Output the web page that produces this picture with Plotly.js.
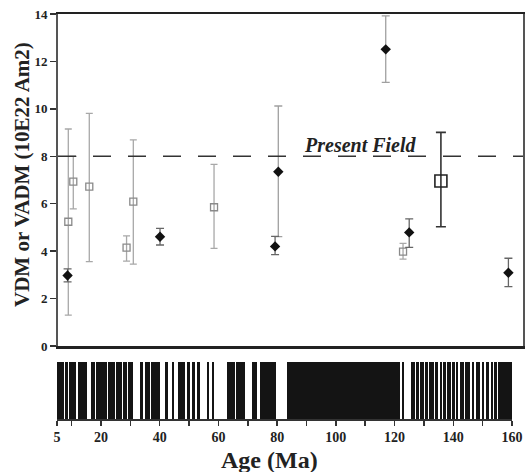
<!DOCTYPE html>
<html>
<head>
<meta charset="utf-8">
<script src="https://cdn.plot.ly/plotly-3.0.1.min.js"></script>
<style>html,body{margin:0;padding:0;background:#fff;}#chart{width:531px;height:472px;}</style>
</head>
<body>
<div id="chart"></div>
<script>
// ---- data ----
// open squares (grey)
const sqAge = [8.85, 10.55, 16.0, 28.7, 31.0, 58.5, 122.9];
const sqVdm = [5.24, 6.93, 6.72, 4.15, 6.09, 5.85, 3.98];
const sqLow = [1.3, 5.78, 3.56, 3.58, 3.45, 4.12, 3.66];
const sqHigh = [9.15, 8.0, 9.81, 4.64, 8.69, 7.66, 4.33];
// filled diamonds with long grey error bars
const dgAge = [80.4, 117.0];
const dgVdm = [7.35, 12.51];
const dgLow = [4.61, 11.12];
const dgHigh = [10.12, 13.92];
// filled diamonds with short dark error bars
const ddAge = [8.6, 40.1, 79.3, 125.0, 158.8];
const ddVdm = [2.97, 4.61, 4.2, 4.79, 3.09];
const ddLow = [2.7, 4.26, 3.85, 4.16, 2.5];
const ddHigh = [3.25, 4.96, 4.62, 5.36, 3.7];
// large open square (this study)
const bigAge = [135.8];
const bigVdm = [6.96];
const bigLow = [5.03];
const bigHigh = [9.01];
// present field
const presentField = 8;
// polarity timescale: normal (black) intervals, Ma
const chronStart = [5.0, 7.7, 9.1, 12.2, 16.6, 18.3, 22.4, 25.1, 27.5, 29.2, 33.3, 35.0, 37.0, 41.8, 44.2, 46.2, 49.3, 51.0, 52.7, 56.1, 57.8, 62.9, 66.0, 71.4, 74.2, 83.4, 122.5,
  125.6, 127.4, 128.7, 130.3, 131.8, 133.8, 135.5, 136.6, 138.0, 139.7, 141.0, 142.3, 144.0, 146.3, 147.6, 149.7, 151.0, 152.8, 154.0, 155.3];
const chronEnd = [7.4, 8.7, 11.5, 15.2, 17.9, 22.0, 24.8, 27.1, 28.9, 30.9, 34.3, 36.7, 40.1, 42.8, 44.9, 48.6, 50.3, 52.0, 53.7, 56.8, 58.5, 65.6, 69.1, 73.1, 79.6, 121.9, 123.2,
  127.0, 128.3, 130.0, 131.4, 133.4, 134.9, 136.2, 137.5, 139.3, 140.5, 141.6, 143.6, 145.8, 147.0, 149.2, 150.4, 152.3, 153.5, 155.0, 160.0];
const ageTicks = [5, 10, 20, 30, 40, 50, 60, 70, 80, 90, 100, 110, 120, 130, 140, 150, 160];
const ageTickText = ['5', '', '20', '', '40', '', '60', '', '80', '', '100', '', '120', '', '140', '', '160'];
const yTicks = [0, 2, 4, 6, 8, 10, 12, 14];

function err(v, lo, hi) {
  return {
    array: hi.map((h, i) => h - v[i]),
    arrayminus: lo.map((l, i) => v[i] - l)
  };
}

const serif = 'Liberation Serif, Times New Roman, serif';
const W = 531, H = 472;
const px = x => x / W;
const py = y => (H - y) / H;

const e1 = err(sqVdm, sqLow, sqHigh);
const e2 = err(dgVdm, dgLow, dgHigh);
const e3 = err(ddVdm, ddLow, ddHigh);
const e4 = err(bigVdm, bigLow, bigHigh);

const traces = [
  {
    type: 'scatter', mode: 'markers', x: sqAge, y: sqVdm, xaxis: 'x', yaxis: 'y',
    marker: {symbol: 'square-open', size: 7, color: '#8a8a8a', line: {width: 1.3, color: '#8a8a8a'}},
    error_y: {type: 'data', symmetric: false, array: e1.array, arrayminus: e1.arrayminus, color: '#a8a8a8', thickness: 1.3, width: 3.5}
  },
  {
    type: 'scatter', mode: 'markers', x: dgAge, y: dgVdm, xaxis: 'x', yaxis: 'y',
    marker: {symbol: 'diamond', size: 8, color: '#111'},
    error_y: {type: 'data', symmetric: false, array: e2.array, arrayminus: e2.arrayminus, color: '#a0a0a0', thickness: 1.3, width: 4}
  },
  {
    type: 'scatter', mode: 'markers', x: ddAge, y: ddVdm, xaxis: 'x', yaxis: 'y',
    marker: {symbol: 'diamond', size: 8, color: '#111'},
    error_y: {type: 'data', symmetric: false, array: e3.array, arrayminus: e3.arrayminus, color: '#666', thickness: 1.3, width: 4}
  },
  {
    type: 'scatter', mode: 'markers', x: bigAge, y: bigVdm, xaxis: 'x', yaxis: 'y',
    marker: {symbol: 'square-open', size: 12, color: '#222', line: {width: 1.6, color: '#222'}},
    error_y: {type: 'data', symmetric: false, array: e4.array, arrayminus: e4.arrayminus, color: '#333', thickness: 1.6, width: 5}
  },
  {
    type: 'bar', orientation: 'h', xaxis: 'x2', yaxis: 'y2',
    base: chronStart, x: chronEnd.map((e, i) => e - chronStart[i]), y: chronStart.map(() => 0),
    width: 1, marker: {color: '#141414', line: {width: 0}}
  }
];

const layout = {
  width: W, height: H,
  margin: {l: 0, r: 0, t: 0, b: 0},
  paper_bgcolor: '#fff', plot_bgcolor: 'rgba(0,0,0,0)',
  showlegend: false, hovermode: false, barmode: 'overlay', bargap: 0,
  xaxis: {
    domain: [px(58), px(523)], range: [5.34, 163.77], anchor: 'y',
    showticklabels: false, ticks: '', showgrid: false, zeroline: false,
    showline: true, linecolor: '#222', linewidth: 2.5, mirror: true
  },
  yaxis: {
    domain: [py(346), py(14)], range: [0, 14], anchor: 'x',
    tickvals: yTicks, ticks: 'outside', ticklen: 6, tickwidth: 1.5, tickcolor: '#333',
    tickfont: {family: serif, size: 13, color: '#222', weight: 'bold'},
    showgrid: false, zeroline: false,
    showline: true, linecolor: '#555', linewidth: 2, mirror: true
  },
  xaxis2: {
    domain: [px(57), px(512)], range: [5, 160], anchor: 'y2',
    tickvals: ageTicks, ticktext: ageTickText, ticks: 'outside', ticklen: 5, tickwidth: 1.5, tickcolor: '#333',
    tickfont: {family: serif, size: 14, color: '#222', weight: 'bold'},
    showgrid: false, zeroline: false, showline: true, linecolor: '#333', linewidth: 1.5
  },
  yaxis2: {
    domain: [py(419), py(362)], range: [-0.5, 0.5], anchor: 'x2', visible: false, fixedrange: true
  },
  shapes: [
    {type: 'line', xref: 'x domain', yref: 'y', x0: 0, x1: 1, y0: presentField, y1: presentField,
     line: {color: '#333', width: 1.6, dash: '18px,17px'}}
  ],
  annotations: [
    {text: 'Present Field', xref: 'paper', yref: 'paper', x: px(360), y: py(145), xanchor: 'center', yanchor: 'middle',
     showarrow: false, font: {family: serif, size: 20, color: '#222', style: 'italic', weight: 'bold'}},
    {text: 'VDM or VADM (10E22 Am2)', xref: 'paper', yref: 'paper', x: px(22), y: py(175), xanchor: 'center', yanchor: 'middle',
     textangle: -90, showarrow: false, font: {family: serif, size: 21, color: '#222', weight: 'bold'}},
    {text: 'Age (Ma)', xref: 'paper', yref: 'paper', x: px(269), y: py(460), xanchor: 'center', yanchor: 'middle',
     showarrow: false, font: {family: serif, size: 24, color: '#222', weight: 'bold'}}
  ]
};

Plotly.newPlot('chart', traces, layout, {staticPlot: true, displayModeBar: false});
</script>
</body>
</html>
